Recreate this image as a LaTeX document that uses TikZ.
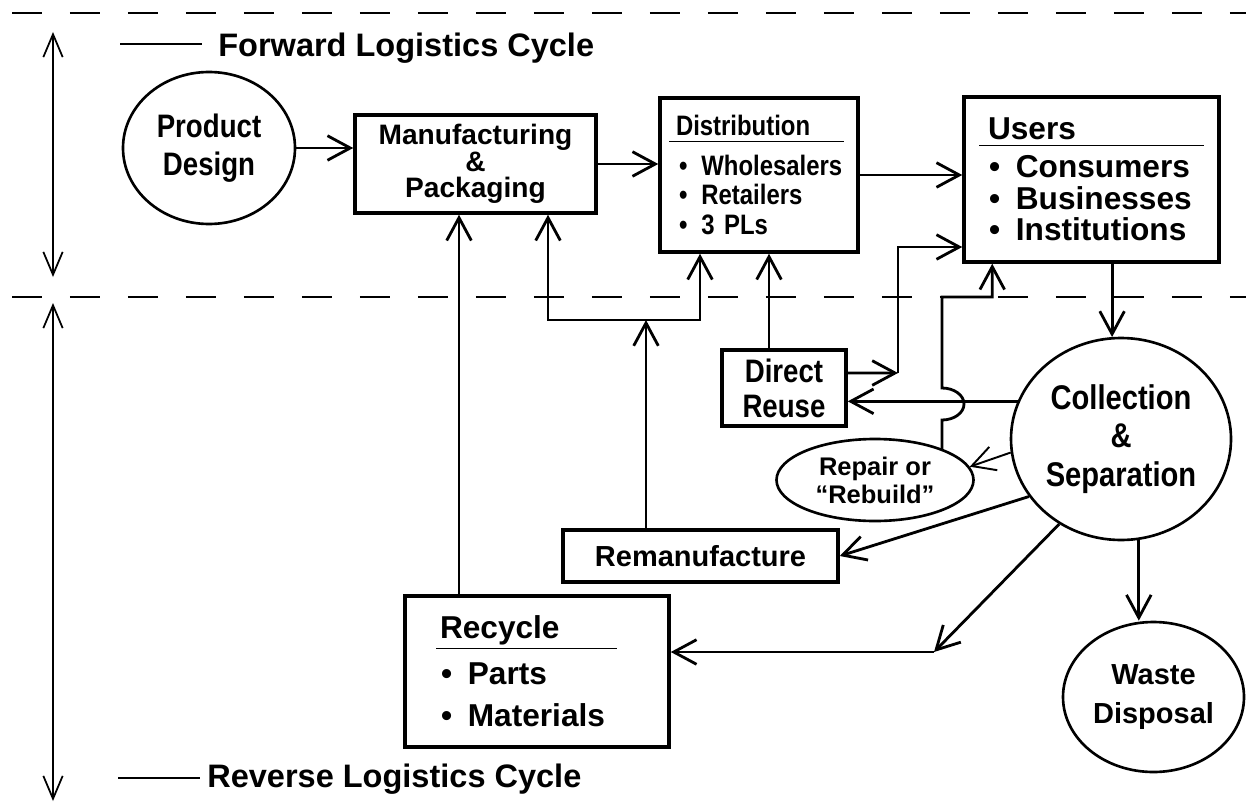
\documentclass[tikz,border=0pt]{standalone}
\usepackage{fontspec}
\setmainfont{Liberation Sans}
\newfontfamily\narrowsans{Liberation Sans}[FakeStretch=0.85]
\usetikzlibrary{shapes.geometric,arrows.meta}
\newcommand{\sizeto}[2]{\fontsize{#1}{#2}\selectfont\bfseries}
\newcommand{\headline}[2]{\underline{\makebox[#1][l]{#2\rule[-2pt]{0pt}{1pt}}}}

\begin{document}
\begin{tikzpicture}[x=0.2mm, y=-0.2mm,
    box/.style={rectangle, draw, line width=2pt},
    listbox/.style={box, align=left, inner ysep=0pt},
    oval/.style={ellipse, draw, line width=1.5pt, align=center, inner sep=0pt},
    arr/.style={-{Straight Barb[length=13pt, width=14pt]}, line width=1.6pt},
    phase/.style={{Straight Barb[length=13pt, width=11pt]}-{Straight Barb[length=13pt, width=11pt]}, line width=1pt},
    divider/.style={dash pattern=on 17pt off 16pt, line width=1.1pt}
  ]
    \useasboundingbox (0,0) rectangle (1246,808);
    \draw[divider] (12,13) -- (1246,13);
    \draw[divider] (12,297) -- (1246,297);
    \draw[phase] (53,32) -- (53,277);
    \draw[phase] (53,303) -- (53,801);

    \draw[line width=1pt] (120,44) -- (202,44);
    \node[anchor=base west, inner sep=0pt, font=\sizeto{18.5}{20}] (fwd) at (218,57) {Forward Logistics Cycle};
    \draw[line width=1pt] (118,778) -- (200,778);
    \node[anchor=base west, inner sep=0pt, font=\sizeto{18.5}{20}] (rev) at (207,787) {Reverse Logistics Cycle};

    \node[oval, minimum width=3.44cm, minimum height=3.04cm, font=\narrowsans\sizeto{18.5}{21.5}] (design) at (209,148) {Product\\Design};
    \node[box, minimum width=4.82cm, minimum height=1.96cm, align=center, font=\sizeto{16}{15}] (mp) at (475.5,164) {Manufacturing\\\&\\Packaging};
    \node[listbox, minimum width=3.96cm, minimum height=3.08cm, text width=3.6cm, inner xsep=0.18cm, font=\narrowsans\sizeto{16}{17}] (dist) at (759,175) {
      \headline{3.5cm}{\hspace*{0.14cm}Distribution}\\[5.7pt]
      \hspace*{0.2cm}\textbullet\enspace Wholesalers\\
      \hspace*{0.2cm}\textbullet\enspace Retailers\\
      \hspace*{0.2cm}\textbullet\enspace 3 PLs};
    \node[listbox, minimum width=5.1cm, minimum height=3.3cm, text width=4.5cm, inner xsep=0.3cm, font=\sizeto{18}{18}] (users) at (1091.5,179.5) {
      \headline{4.5cm}{\hspace*{0.18cm}Users}\\[3.5pt]
      \hspace*{0.2cm}\textbullet\enspace Consumers\\
      \hspace*{0.2cm}\textbullet\enspace Businesses\\
      \hspace*{0.2cm}\textbullet\enspace Institutions};
    \node[box, minimum width=2.48cm, minimum height=1.52cm, align=center, font=\narrowsans\sizeto{18.5}{20}] (reuse) at (784,388) {Direct\\Reuse};
    \node[oval, minimum width=4.4cm, minimum height=4.04cm, font=\narrowsans\sizeto{19.5}{21.8}] (coll) at (1121,439) {Collection\\\&\\Separation};
    \node[oval, minimum width=3.94cm, minimum height=1.64cm, font=\sizeto{14.5}{16}] (repair) at (875,480) {Repair or\\“Rebuild”};
    \node[box, minimum width=5.5cm, minimum height=1.04cm, font=\sizeto{16.5}{18}] (reman) at (700.5,556) {Remanufacture};
    \node[listbox, minimum width=5.28cm, minimum height=3.02cm, text width=4.04cm, inner xsep=0.62cm, font=\sizeto{18}{24}] (recycle) at (537,671.5) {
      \headline{3.62cm}{\hspace*{0.08cm}Recycle}\\[2pt]
      \hspace*{0.1cm}\textbullet\enspace Parts\\
      \hspace*{0.1cm}\textbullet\enspace Materials};
    \node[oval, minimum width=3.62cm, minimum height=3cm, font=\sizeto{16.5}{22.7}] (waste) at (1153.5,697) {Waste\\Disposal};

    \draw[arr] (design.east) -- (design.east -| mp.west);
    \draw[arr] (mp.east) -- (mp.east -| dist.west);
    \draw[arr] (dist.east) -- (dist.east -| users.west);
    \draw[arr] (coll.95 |- users.south) -- (coll.95);
    \draw[arr] (coll.-80) -- (coll.-80 |- waste.north);

    \coordinate (hopS) at (942,420);
    \coordinate (bend) at (942,297);
    \draw[arr] (coll.160) -- (coll.160 -| reuse.east);
    \draw[arr] (repair.24 -| hopS) -- (hopS) arc[start angle=-90, end angle=90, x radius=0.44cm, y radius=0.32cm] -- (bend) -| ([xshift=0.6cm]users.south west);

    \coordinate (reuseup) at (898,373);
    \draw[arr] ([yshift=0.3cm]reuse.east) -- (reuseup);
    \draw[arr] (reuseup) |- ([yshift=-1.35cm]users.west);
    \coordinate (reusetop) at ([xshift=-0.3cm]reuse.north);
    \draw[arr] (reusetop) -- (reusetop |- dist.south);

    \draw[arr, line width=1.1pt] (coll.187) -- (repair.8);
    \draw[arr] (coll.212) -- (reman.east);

    \coordinate (join) at (646,320);
    \draw[arr] (reman.north -| join) -- (join);
    \draw[arr] (join) -| ([xshift=1.45cm]mp.south);
    \draw[arr] (join) -| ([xshift=-1.18cm]dist.south);

    \coordinate (recycletop) at ([xshift=-1.56cm]recycle.north);
    \draw[arr] (recycletop) -- (recycletop |- mp.south);

    \coordinate (turn) at (934,652);
    \draw[arr] (coll.234) -- (turn);
    \draw[arr] (turn) -- (turn -| recycle.east);
  \end{tikzpicture}
\end{document}
